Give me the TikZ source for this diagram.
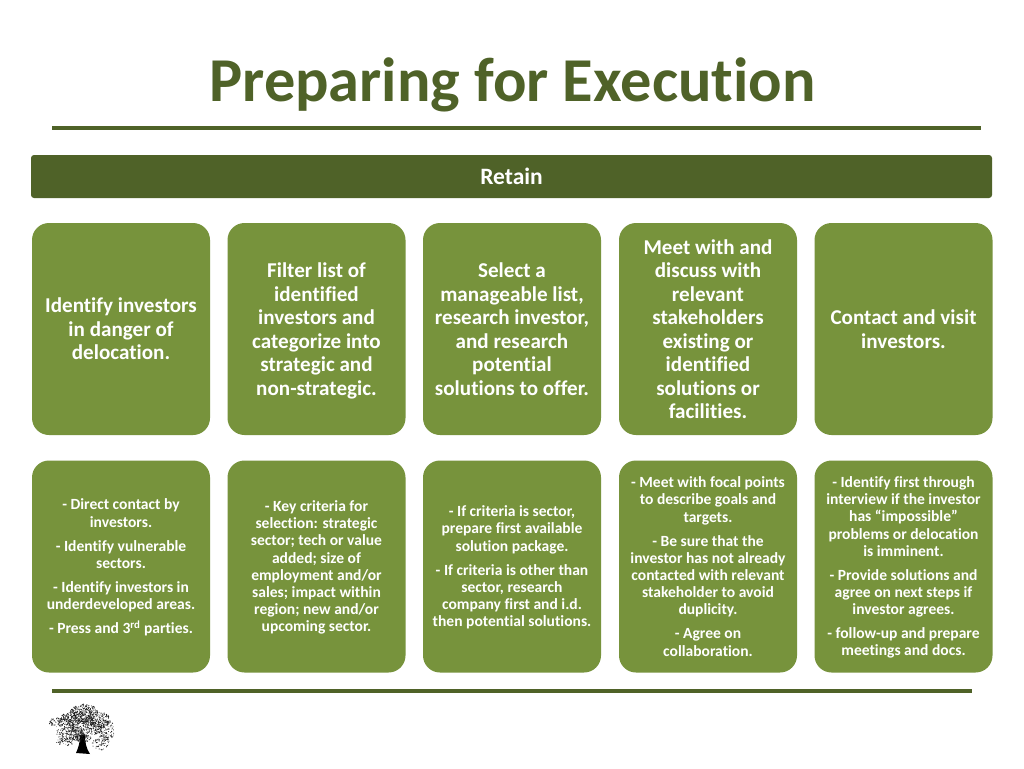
\documentclass[tikz,border=0pt]{standalone}
\usepackage{fontspec}
\setmainfont{Carlito}[BoldFont={Carlito Bold},Ligatures=NoCommon]
\definecolor{boxgreen}{HTML}{77933C}
\definecolor{darkgreen}{HTML}{4F6228}
\newcommand{\gp}{\\[6.8pt]}
\tikzset{
  stepcard/.style={fill=boxgreen,rounded corners=17pt,minimum width=178pt,minimum height=212pt,inner sep=0pt,text=white,align=center,font=\bfseries\fontsize{21.1}{23.5}\selectfont,anchor=center},
  notecard/.style={stepcard,font=\bfseries\fontsize{15.55}{17.2}\selectfont},
  rulebar/.style={fill=darkgreen,draw=none}
}
\begin{document}
\begin{tikzpicture}[x=1pt,y=-1pt]
\useasboundingbox (0,0) rectangle (1024,768);
\fill[white] (0,0) rectangle (1024,768);
\node[font=\bfseries\fontsize{62.4}{66}\selectfont,text=darkgreen,inner sep=0pt] (title) at (512.5,85) {Preparing for Execution};
\fill[rulebar] (52,126) rectangle (981,130);
\node[fill=darkgreen,rounded corners=3pt,minimum width=961pt,minimum height=43pt,inner sep=0pt,text=white,font=\bfseries\fontsize{23.5}{25}\selectfont] (retain) at (511.5,176.5) {Retain};
\node[stepcard] (s1) at (121,329) {Identify investors\\in danger of\\delocation.};
\node[stepcard] (s2) at (316.5,329) {\rule{0pt}{19pt}Filter list of\\identified\\investors and\\categorize into\\strategic and\\non-strategic.};
\node[stepcard] (s3) at (512,329) {Select a\\manageable list,\\research investor,\\and research\\potential\\solutions to offer.};
\node[stepcard] (s4) at (708,329) {Meet with and\\discuss with\\relevant\\stakeholders\\existing or\\identified\\solutions or\\facilities.};
\node[stepcard] (s5) at (903.5,329) {Contact and visit\\investors.};
\node[notecard] (n1) at (121,566.5) {\rule{0pt}{13pt}- Direct contact by\\investors.\gp - Identify vulnerable\\sectors.\gp - Identify investors in\\underdeveloped areas.\gp - Press and 3\textsuperscript{rd} parties.};
\node[notecard] (n2) at (316.5,566.5) {\rule{0pt}{13pt}- Key criteria for\\selection: strategic\\sector; tech or value\\added; size of\\employment and/or\\sales; impact within\\region; new and/or\\upcoming sector.};
\node[notecard] (n3) at (512,566.5) {\rule{0pt}{13pt}- If criteria is sector,\\prepare first available\\solution package.\gp - If criteria is other than\\sector, research\\company first and i.d.\\then potential solutions.};
\node[notecard] (n4) at (708,566.5) {- Meet with focal points\\to describe goals and\\targets.\gp - Be sure that the\\investor has not already\\contacted with relevant\\stakeholder to avoid\\duplicity.\gp - Agree on\\collaboration.};
\node[notecard] (n5) at (903.5,566.5) {\rule{0pt}{13pt}- Identify first through\\interview if the investor\\has “impossible”\\problems or delocation\\is imminent.\gp - Provide solutions and\\agree on next steps if\\investor agrees.\gp - follow-up and prepare\\meetings and docs.};
\fill[rulebar] (52,688.5) rectangle (972,692.5);
% tree
\pgfmathsetseed{4242}
\begin{scope}
  \fill[black] (76,753) .. controls (79,746) and (80,742) .. (80,735) -- (85,735) .. controls (85,742) and (86,748) .. (90,754) -- cycle;
  \foreach \cx/\cy/\rx/\ry/\n in {84/713/14/9/320,71/719/11/7/180,98/720/13/8/200,60/722/11/5/100,106/730/9/10/130,70/733/14/7/200,87/727/16/9/280,101/743/9/7/70,65/741/9/5/70,82/738/9/4/80}{
    \foreach \k in {1,...,\n}{
      \pgfmathsetmacro{\aa}{rand*180}
      \pgfmathsetmacro{\rr}{sqrt(abs(rnd))}
      \pgfmathsetmacro{\ss}{0.25+0.4*rnd}
      \fill[black!90] ({\cx+\rx*\rr*cos(\aa)},{\cy+\ry*\rr*sin(\aa)}) circle (\ss);
    }
  }
\end{scope}
\end{tikzpicture}
\end{document}
